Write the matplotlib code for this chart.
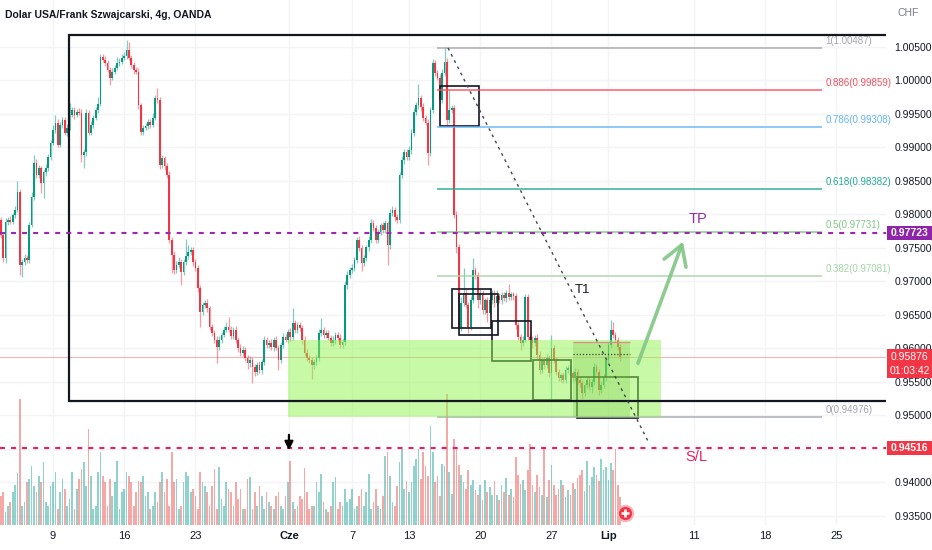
import numpy as np
import matplotlib
matplotlib.use('Agg')
import matplotlib.pyplot as plt
import matplotlib.transforms as mtransforms
from matplotlib.patches import Rectangle, FancyArrowPatch

plt.rcParams['font.family'] = ['Liberation Sans', 'DejaVu Sans']
fs_axis, fs_fib, fs_title = 7.5, 7, 7.5

# 4h closes USD/CHF (OANDA), first bar = 3 May
closes = [
    0.9769, 0.9735, 0.9789, 0.9792, 0.9789, 0.9799,
    0.9807, 0.9834, 0.9725, 0.9729, 0.9735, 0.9732,
    0.9784, 0.9826, 0.9877, 0.9859, 0.9869, 0.9847,
    0.9863, 0.9869, 0.9886, 0.9907, 0.9926, 0.9937,
    0.9904, 0.9934, 0.9941, 0.9922, 0.9929, 0.9949,
    0.9956, 0.9949, 0.9953, 0.9952, 0.9889, 0.9893,
    0.9952, 0.9922, 0.9934, 0.9944, 0.9956, 0.9965,
    1.0035, 1.0031, 1.0026, 1.0016, 1.0004, 1.0013,
    1.0019, 1.0026, 1.0028, 1.0034, 1.0037, 1.0046,
    1.0034, 1.0023, 1.0016, 1.0013, 0.9963, 0.9923,
    0.9929, 0.9932, 0.9938, 0.9934, 0.9944, 0.9974,
    0.9971, 0.9874, 0.9884, 0.9872, 0.9859, 0.9762,
    0.9740, 0.9717, 0.9725, 0.9729, 0.9714, 0.9729,
    0.9738, 0.9744, 0.9747, 0.9729, 0.9720, 0.9690,
    0.9654, 0.9665, 0.9668, 0.9660, 0.9632, 0.9623,
    0.9613, 0.9602, 0.9613, 0.9620, 0.9628, 0.9632,
    0.9628, 0.9619, 0.9628, 0.9613, 0.9601, 0.9593,
    0.9598, 0.9586, 0.9578, 0.9583, 0.9572, 0.9565,
    0.9575, 0.9568, 0.9580, 0.9613, 0.9605, 0.9608,
    0.9602, 0.9613, 0.9601, 0.9583, 0.9605, 0.9617,
    0.9613, 0.9625, 0.9617, 0.9638, 0.9628, 0.9635,
    0.9631, 0.9613, 0.9593, 0.9586, 0.9583, 0.9575,
    0.9580, 0.9586, 0.9623, 0.9628, 0.9620, 0.9623,
    0.9616, 0.9608, 0.9613, 0.9620, 0.9616, 0.9605,
    0.9610, 0.9695, 0.9710, 0.9717, 0.9720, 0.9732,
    0.9762, 0.9750, 0.9728, 0.9735, 0.9751, 0.9762,
    0.9787, 0.9780, 0.9762, 0.9774, 0.9784, 0.9777,
    0.9787, 0.9754, 0.9802, 0.9807, 0.9796, 0.9792,
    0.9859, 0.9881, 0.9893, 0.9886, 0.9896, 0.9922,
    0.9953, 0.9963, 0.9974, 0.9960, 0.9944, 0.9937,
    0.9892, 0.9956, 1.0026, 1.0011, 1.0004, 0.9971,
    1.0011, 1.0028, 0.9941, 0.9956, 0.9959, 0.9799,
    0.9751, 0.9632, 0.9668, 0.9683, 0.9665, 0.9632,
    0.9672, 0.9717, 0.9710, 0.9672, 0.9683, 0.9657,
    0.9672, 0.9653, 0.9672, 0.9683, 0.9668, 0.9678,
    0.9672, 0.9680, 0.9675, 0.9683, 0.9677, 0.9681,
    0.9678, 0.9635, 0.9617, 0.9608, 0.9613, 0.9677,
    0.9617, 0.9613, 0.9608, 0.9616, 0.9590, 0.9568,
    0.9583, 0.9575, 0.9586, 0.9563, 0.9601, 0.9583,
    0.9565, 0.9556, 0.9560, 0.9553, 0.9568, 0.9571,
    0.9563, 0.9556, 0.9565, 0.9553, 0.9548, 0.9534,
    0.9545, 0.9553, 0.9543, 0.9550, 0.9572, 0.9565,
    0.9538, 0.9545, 0.9557, 0.9583, 0.9605, 0.9628,
    0.9620, 0.9613, 0.9602, 0.95876,
]
first_open = 0.9792

# wick lengths in pips above / below the body
up_wick = [
    4, 3, 5, 4, 5, 3,   5, 16, 4, 4, 6, 5,   5, 7, 12, 6, 5, 4,
    4, 6, 5, 4, 8, 12,  5, 4, 5, 4, 6, 17,   5, 4, 4, 6, 5, 5,
    5, 4, 5, 4, 5, 10,  5, 4, 6, 5, 4, 6,    4, 9, 5, 6, 5, 14,
    12, 4, 5, 4, 5, 4,  4, 5, 4, 5, 7, 5,    15, 4, 5, 4, 5, 6,
    4, 5, 6, 7, 5, 4,   25, 10, 4, 4, 5, 4,  4, 5, 4, 6, 4, 5,
    4, 5, 6, 4, 5, 8,   15, 5, 4, 5, 4, 5,   5, 4, 5, 6, 4, 5,
    5, 6, 4, 5, 4, 5,   6, 4, 5, 4, 5, 6,    5, 4, 6, 22, 5, 4,
    5, 4, 5, 6, 4, 5,   4, 5, 6, 18, 4, 5,   5, 4, 6, 5, 4, 5,
    5, 6, 5, 4, 6, 5,   5, 6, 4, 5, 4, 6,    6, 5, 4, 5, 4, 5,
    5, 4, 6, 5, 4, 5,   5, 6, 4, 5, 6, 5,    6, 5, 20, 5, 6, 4,
    5, 4, 6, 5, 4, 5,   6, 22, 5, 30, 5, 4,  6, 5, 9, 37, 6, 5,
    6, 18, 5, 4, 6, 4,  4, 5, 6, 5, 4, 10,   5, 4, 5, 4, 13, 4,
    4, 5, 4, 5, 6, 5,   5, 4, 5, 4, 5, 6,    5, 4, 6, 4, 19, 4,
    4, 5, 4, 5, 6, 4,   5, 4, 6, 5, 4, 5,    4, 5, 4, 5, 6, 5,
    5, 6, 5, 4, 5, 15,  12, 5, 4, 4,
]
dn_wick = [
    4, 6, 8, 4, 3, 3,   4, 3, 15, 19, 5, 4,  4, 3, 5, 4, 5, 15,
    22, 6, 4, 5, 3, 4,  4, 3, 5, 4, 5, 3,    4, 6, 3, 4, 11, 19,
    5, 4, 3, 5, 3, 4,   3, 4, 5, 4, 11, 4,   4, 4, 5, 3, 4, 5,
    4, 5, 6, 4, 5, 4,   5, 3, 4, 5, 4, 3,    5, 6, 4, 6, 5, 5,
    27, 6, 4, 5, 19, 4, 4, 5, 5, 6, 4, 5,    22, 4, 5, 5, 4, 5,
    5, 24, 4, 5, 3, 4,  4, 5, 5, 5, 6, 4,    4, 5, 8, 5, 23, 6,
    4, 5, 6, 5, 4, 5,   5, 6, 4, 15, 4, 5,   4, 5, 6, 4, 5, 5,
    5, 6, 4, 5, 4, 20,  5, 4, 5, 4, 5, 4,    4, 5, 4, 6, 5, 4,
    4, 5, 6, 5, 4, 5,   4, 5, 12, 5, 4, 5,   5, 4, 5, 4, 5, 4,
    4, 29, 5, 4, 5, 4,  4, 5, 6, 5, 4, 5,    5, 4, 5, 6, 5, 4,
    18, 5, 4, 5, 4, 6,  4, 5, 7, 4, 5, 5,    8, 5, 6, 4, 5, 9,
    5, 4, 6, 11, 5, 5,  5, 13, 4, 5, 6, 4,   4, 5, 4, 5, 4, 5,
    5, 6, 5, 10, 5, 4,  4, 5, 8, 4, 5, 6,    4, 5, 4, 6, 40, 5,
    5, 4, 6, 5, 4, 5,   4, 5, 4, 6, 5, 10,   5, 4, 5, 10, 5, 4,
    8, 5, 4, 5, 4, 5,   5, 4, 5, 6,
]
volume = [
    29, 33, 13, 19, 23, 33,  40, 52, 126, 19, 23, 43,  46, 59, 39, 33, 49, 43,
    63, 23, 19, 39, 43, 53,  16, 33, 46, 36, 19, 26,   53, 16, 36, 46, 56, 63,
    39, 96, 49, 16, 19, 53,  73, 49, 43, 19, 46, 29,   43, 64, 16, 33, 36, 53,
    49, 43, 19, 33, 44, 43,  49, 29, 33, 16, 19, 33,   23, 43, 53, 33, 46, 19,
    73, 43, 46, 16, 19, 43,  53, 49, 33, 36, 29, 16,   53, 43, 39, 33, 19, 39,
    56, 16, 58, 26, 19, 43,  36, 33, 19, 43, 26, 36,   16, 16, 46, 48, 16, 33,
    19, 39, 29, 16, 33, 23,  19, 16, 29, 33, 19, 16,   29, 43, 64, 23, 16, 19,
    29, 26, 57, 33, 16, 19,  19, 43, 33, 51, 23, 16,   13, 19, 43, 48, 16, 23,
    19, 36, 23, 26, 36, 16,  19, 29, 36, 19, 33, 51,   16, 23, 36, 19, 16, 29,
    69, 73, 49, 23, 19, 39,  63, 76, 36, 44, 33, 43,   59, 66, 76, 46, 73, 59,
    49, 99, 73, 43, 49, 29,  61, 59, 131, 53, 31, 86,  76, 60, 50, 43, 36, 55,
    40, 45, 35, 30, 40, 25,  45, 33, 38, 30, 44, 30,   25, 40, 33, 47, 30, 36,
    28, 68, 50, 41, 45, 35,  55, 81, 40, 33, 50, 38,   30, 76, 28, 45, 60, 40,
    30, 36, 45, 40, 28, 35,  30, 42, 36, 47, 50, 55,   34, 64, 40, 48, 58, 50,
    44, 66, 55, 58, 45, 62,  55, 76, 40, 28,
]

date_pos = [0, 5, 10, 16.6, 21, 25, 30, 35, 39, 45, 50, 55]
date_lbl = ['9', '16', '23', 'Cze', '7', '13', '20', '27', 'Lip', '11', '18', '25']

fib_ratio = ['1', '0.886', '0.786', '0.618', '0.5', '0.382', '0']
fib_price = [1.00487, 0.99859, 0.99308, 0.98382, 0.97731, 0.97081, 0.94976]
fib_color = ['#a3a6af', '#f7525f', '#64b5f6', '#22ab94', '#81c784', '#a5d6a7', '#a3a6af']

tp_price = 0.97723
sl_price = 0.94516
last_price = 0.95876

n = len(closes)
closes = np.array(closes)
t = (np.arange(n) - 22) / 6.0
opens = np.r_[first_open, closes[:-1]]
up = closes >= opens
hi = np.maximum(opens, closes) + np.array(up_wick) * 1e-4
lo = np.minimum(opens, closes) - np.array(dn_wick) * 1e-4
cols = np.where(up, '#089981', '#f23645')

fig = plt.figure(figsize=(9.32, 5.5), dpi=100)
ax = fig.add_axes([0, 25 / 550, 886 / 932, 525 / 550])
ax2 = ax.twinx()
ax.set_zorder(2)
ax2.set_zorder(1)
ax.patch.set_visible(False)

ymin, ymax = 1.01201 - 525 * 0.00014925, 1.01201
price_ticks = np.arange(0.935, 1.0051, 0.005)

# grid, under the volume
for p in price_ticks:
    ax2.axhline((p - ymin) / (ymax - ymin) * 525, color='#f2f4f8', lw=1, zorder=0)
for d in date_pos:
    ax2.axvline(d, color='#f2f4f8', lw=1, zorder=0)

# volume
vcols = np.where(up, '#26a69a', '#ef5350')
ax2.bar(t, volume, width=0.12, color=vcols, alpha=0.5, linewidth=0)
ax2.set_ylim(0, 525)
ax2.set_yticks([])
for s in ax2.spines.values():
    s.set_visible(False)

# candles
ax.vlines(t, lo, hi, colors=cols, lw=0.9, alpha=0.5, zorder=3)
body_h = np.maximum(np.abs(closes - opens), 0.00008)
ax.bar(t, body_h, bottom=np.minimum(opens, closes), width=0.12, color=cols, linewidth=0, zorder=4)

ax.set_xlim(-53 / 14.24, 833 / 14.24)
ax.set_ylim(ymin, ymax)

ax.set_yticks(price_ticks)
ax.set_yticklabels(['%.5f' % p for p in price_ticks])
ax.yaxis.tick_right()
ax.tick_params(axis='y', length=0, pad=6, labelsize=fs_axis, labelcolor='#131722')
ax.set_xticks(date_pos)
ax.set_xticklabels(date_lbl)
ax.tick_params(axis='x', length=0, pad=4, labelsize=8, labelcolor='#131722')
for lab in ax.get_xticklabels():
    if lab.get_text() in ('Cze', 'Lip'):
        lab.set_fontweight('bold')
for s in ax.spines.values():
    s.set_visible(False)

# large range box
ax.add_patch(Rectangle((1.12, 0.95216), 60, 1.00679 - 0.95216, fill=False,
                       ec='#131722', lw=1.6, zorder=8))

# small boxes
boxes = [(27.18, 29.92, 0.99320, 0.99917), (28.02, 30.76, 0.96306, 0.96888),
         (28.51, 31.25, 0.96201, 0.96813), (30.83, 33.57, 0.95813, 0.96410),
         (33.71, 36.38, 0.95231, 0.95828), (36.80, 41.08, 0.94962, 0.95574)]
for x0, x1, y0, y1 in boxes:
    ax.add_patch(Rectangle((x0, y0), x1 - x0, y1 - y0, fill=False, ec='#131722', lw=1.2, zorder=5))

# green zones
ax.add_patch(Rectangle((16.50, 0.94977), 42.70 - 16.50, 0.96126 - 0.94977,
                       fc='#91f54f', alpha=0.5, lw=0, zorder=7))
ax.add_patch(Rectangle((36.52, 0.94977), 40.52 - 36.52, 0.96097 - 0.94977,
                       fc='#6fbf3a', alpha=0.25, lw=0, zorder=7))
ax.hlines(0.96097, 36.52, 40.52, color='#e08a90', lw=0.9, zorder=7)
ax.hlines(0.95918, 36.52, 40.52, color='#3d4a30', lw=0.9, ls=(0, (1, 1.5)), zorder=7)

# fibonacci
for r, p, c in zip(fib_ratio, fib_price, fib_color):
    ax.hlines(p, 27.0, 54.0, color=c, lw=1.2, alpha=0.85, zorder=6)
    ax.annotate('%s(%.5f)' % (r, p), (54.25, p), xytext=(0, 1.5), textcoords='offset points',
                color=c, fontsize=fs_fib, va='bottom', ha='left', zorder=6)

# levels
ax.axhline(last_price, color='#f23645', lw=0.7, alpha=0.4, zorder=6)
ax.axhline(tp_price, color='#9c27b0', lw=1.5, ls=(0, (2.4, 2.9)), zorder=9)
ax.axhline(sl_price, color='#e91e63', lw=1.5, ls=(0, (2.4, 2.9)), zorder=9)

# trend line
ax.plot([27.74, 41.85], [1.00485, 0.94589], color='#434651', lw=1, ls=(0, (2, 3)), zorder=9)
ax.text(37.15, 0.96873, 'T1', color='#131722', fontsize=9.5, ha='center', va='center', zorder=9)

ax.add_patch(FancyArrowPatch((41.01, 0.95739), (44.31, 0.97634),
                             arrowstyle='->,head_length=0.5,head_width=0.3', mutation_scale=28,
                             color='#81c784', lw=2.6, alpha=0.9, zorder=9))
ax.text(45.29, 0.97932, 'TP', color='#9c27b0', fontsize=10.5, ha='center', va='center', zorder=9)
ax.text(45.15, 0.94380, 'S/L', color='#e91e63', fontsize=10.5, ha='center', va='center', zorder=9)

ax.annotate('', xy=(16.57, 0.94440), xytext=(16.57, 0.94753),
            arrowprops=dict(arrowstyle='-|>,head_length=0.5,head_width=0.25', color='black', lw=1.6),
            zorder=9)

ax.plot([40.17], [0.93545], marker='o', ms=11, color='#f23645', mec='#f9b3b8', mew=1.5, zorder=9)
ax.plot([40.17], [0.93545], marker='+', ms=6, color='white', mew=1.8, zorder=10)

# price scale badges
trans = mtransforms.blended_transform_factory(fig.transFigure, ax.transData)
badges = [(0.97619, 0.97828, '#8e24aa'), (0.95559, 0.95992, '#f23645'), (0.94410, 0.94619, '#f23645')]
for b0, b1, c in badges:
    fig.add_artist(Rectangle((887 / 932, b0), 45 / 932, b1 - b0, transform=trans,
                             fc=c, lw=0, zorder=5))
xc = 909.5 / 932
fig.text(xc, tp_price, '%.5f' % tp_price, transform=trans, color='white', fontsize=fs_axis,
         fontweight='bold', ha='center', va='center', zorder=6)
fig.text(xc, 0.95873, '%.5f' % last_price, transform=trans, color='white', fontsize=fs_axis,
         ha='center', va='center', zorder=6)
fig.text(xc, 0.95664, '01:03:42', transform=trans, color='white', fontsize=fs_axis,
         ha='center', va='center', zorder=6)
fig.text(xc, sl_price, '%.5f' % sl_price, transform=trans, color='white', fontsize=fs_axis,
         fontweight='bold', ha='center', va='center', zorder=6)

fig.text(898 / 932, 1 - 13 / 550, 'CHF', color='#787b86', fontsize=fs_axis, va='center', zorder=6)
fig.text(5 / 932, 1 - 15 / 550, 'Dolar USA/Frank Szwajcarski, 4g, OANDA', color='#131722',
         fontsize=fs_title, fontweight='bold', va='center', zorder=6)

fig.savefig('out.png', dpi=100, facecolor='white')
